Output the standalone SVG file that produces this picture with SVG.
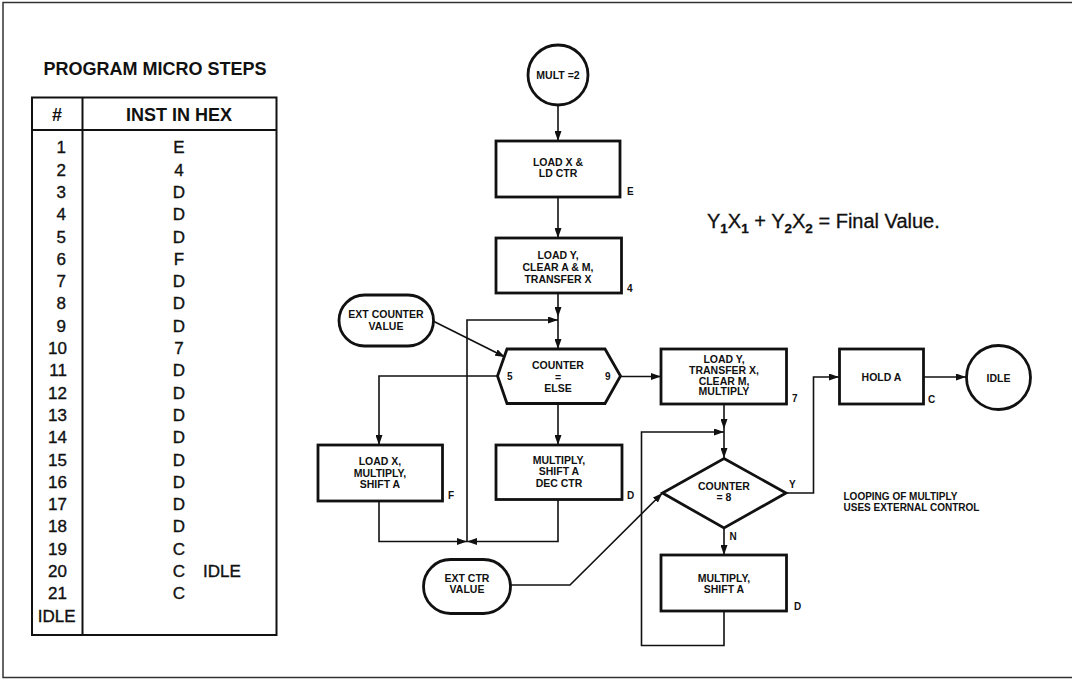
<svg xmlns="http://www.w3.org/2000/svg" width="1072" height="679" viewBox="0 0 1072 679">
  <defs>
    <marker id="arrow" markerUnits="userSpaceOnUse" markerWidth="10" markerHeight="7" refX="10" refY="3.5" orient="auto">
      <path d="M0,0 L10,3.5 L0,7 z" fill="#111"/>
    </marker>
    <style>
      .frame { fill: none; stroke: #333; stroke-width: 1.5; }
      .tbl { fill: none; stroke: #111; stroke-width: 2; }
      .node { fill: #fff; stroke: #111; stroke-width: 2.8; }
      .conn { fill: none; stroke: #111; stroke-width: 1.6; }
      .title { font-family: "Liberation Sans", Arial, sans-serif; font-weight: bold; font-size: 18px; fill: #111; }
      .cell { font-family: "Liberation Sans", Arial, sans-serif; font-size: 17px; fill: #111; stroke: #111; stroke-width: 0.35; }
      .lbl { font-family: "Liberation Sans", Arial, sans-serif; font-weight: bold; font-size: 10.5px; fill: #111; text-anchor: middle; }
      .tag { font-family: "Liberation Sans", Arial, sans-serif; font-weight: bold; font-size: 10px; fill: #111; }
      .note { font-family: "Liberation Sans", Arial, sans-serif; font-weight: bold; font-size: 10px; fill: #111; }
      .formula { font-family: "Liberation Sans", Arial, sans-serif; font-size: 20px; fill: #111; stroke: #111; stroke-width: 0.3; }
      .sub { font-size: 13.5px; font-weight: bold; }
    </style>
  </defs>

  <rect width="1072" height="679" fill="#fff"/>

  <!-- page frame (open on the right) -->
  <path class="frame" d="M1072,2.5 H3 V677.5 H1072"/>

  <!-- micro step table -->
  <g id="micro-steps-table">
    <text class="title" x="155" y="75" text-anchor="middle">PROGRAM MICRO STEPS</text>
    <rect class="tbl" x="32" y="97.5" width="244.5" height="537.5"/>
    <line class="tbl" x1="32" y1="130" x2="276.5" y2="130"/>
    <line class="tbl" x1="82.5" y1="97.5" x2="82.5" y2="635"/>
    <text class="title" x="57" y="121" text-anchor="middle">#</text>
    <text class="title" x="179" y="121" text-anchor="middle">INST IN HEX</text>
    <g class="cell" text-anchor="end">
      <text x="66" y="153.3">1</text>
      <text x="66" y="175.6">2</text>
      <text x="66" y="197.9">3</text>
      <text x="66" y="220.2">4</text>
      <text x="66" y="242.5">5</text>
      <text x="66" y="264.8">6</text>
      <text x="66" y="287.1">7</text>
      <text x="66" y="309.4">8</text>
      <text x="66" y="331.7">9</text>
      <text x="67" y="354.0">10</text>
      <text x="67" y="376.3">11</text>
      <text x="67" y="398.6">12</text>
      <text x="67" y="420.9">13</text>
      <text x="67" y="443.2">14</text>
      <text x="67" y="465.5">15</text>
      <text x="67" y="487.8">16</text>
      <text x="67" y="510.1">17</text>
      <text x="67" y="532.4">18</text>
      <text x="67" y="554.7">19</text>
      <text x="67" y="577.0">20</text>
      <text x="67" y="599.3">21</text>
      <text x="75.5" y="621.6">IDLE</text>
    </g>
    <g class="cell" text-anchor="middle">
      <text x="179" y="153.3">E</text>
      <text x="179" y="175.6">4</text>
      <text x="179" y="197.9">D</text>
      <text x="179" y="220.2">D</text>
      <text x="179" y="242.5">D</text>
      <text x="179" y="264.8">F</text>
      <text x="179" y="287.1">D</text>
      <text x="179" y="309.4">D</text>
      <text x="179" y="331.7">D</text>
      <text x="179" y="354.0">7</text>
      <text x="179" y="376.3">D</text>
      <text x="179" y="398.6">D</text>
      <text x="179" y="420.9">D</text>
      <text x="179" y="443.2">D</text>
      <text x="179" y="465.5">D</text>
      <text x="179" y="487.8">D</text>
      <text x="179" y="510.1">D</text>
      <text x="179" y="532.4">D</text>
      <text x="179" y="554.7">C</text>
      <text x="179" y="577.0">C</text>
      <text x="179" y="599.3">C</text>
    </g>
    <text class="cell" x="203" y="577.0">IDLE</text>
  </g>

  <!-- formula -->
  <text class="formula" x="707" y="228">Y<tspan class="sub" dy="5">1</tspan><tspan dy="-5">X</tspan><tspan class="sub" dy="5">1</tspan><tspan dy="-5"> + Y</tspan><tspan class="sub" dy="5">2</tspan><tspan dy="-5">X</tspan><tspan class="sub" dy="5">2</tspan><tspan dy="-5"> = Final Value.</tspan></text>

  <!-- connectors -->
  <g id="connectors">
    <line class="conn" x1="558" y1="105" x2="558" y2="141" marker-end="url(#arrow)"/>
    <line class="conn" x1="558" y1="197" x2="558" y2="238" marker-end="url(#arrow)"/>
    <line class="conn" x1="558" y1="293" x2="558" y2="317" marker-end="url(#arrow)"/>
    <line class="conn" x1="558" y1="317" x2="558" y2="349" marker-end="url(#arrow)"/>
    <path class="conn" d="M467,541.5 V320 H558" marker-end="url(#arrow)"/>
    <line class="conn" x1="434" y1="321.5" x2="505" y2="357" marker-end="url(#arrow)"/>
    <path class="conn" d="M497,376 H379 V445" marker-end="url(#arrow)"/>
    <line class="conn" x1="558" y1="403.5" x2="558" y2="445" marker-end="url(#arrow)"/>
    <path class="conn" d="M379,501 V541.5 H467" marker-end="url(#arrow)"/>
    <path class="conn" d="M558,499.5 V541.5 H467" marker-end="url(#arrow)"/>
    <line class="conn" x1="621" y1="376.5" x2="661" y2="376.5" marker-end="url(#arrow)"/>
    <line class="conn" x1="724" y1="404" x2="724" y2="429" marker-end="url(#arrow)"/>
    <line class="conn" x1="724" y1="429" x2="724" y2="458" marker-end="url(#arrow)"/>
    <path class="conn" d="M724,611 V645.5 H641.5 V432 H724" marker-end="url(#arrow)"/>
    <path class="conn" d="M511,585 H570 L662.5,493" marker-end="url(#arrow)"/>
    <path class="conn" d="M786,493 H813.5 V377 H839" marker-end="url(#arrow)"/>
    <line class="conn" x1="724" y1="528" x2="724" y2="555" marker-end="url(#arrow)"/>
    <line class="conn" x1="923.5" y1="377" x2="966" y2="377" marker-end="url(#arrow)"/>
  </g>

  <g id="mult-start">
    <circle class="node" cx="558" cy="75" r="30"/>
    <text class="lbl" x="558" y="79">MULT =2</text>
  </g>

  <g id="load-x-ld-ctr">
    <rect class="node" x="496" y="141" width="124" height="56"/>
    <text class="lbl" x="558" y="165.5">LOAD X &amp;</text>
    <text class="lbl" x="558" y="177">LD CTR</text>
    <text class="tag" x="627" y="195">E</text>
  </g>

  <g id="load-y-clear">
    <rect class="node" x="496" y="238" width="125.5" height="55"/>
    <text class="lbl" x="558" y="258.5">LOAD Y,</text>
    <text class="lbl" x="558" y="270.5">CLEAR A &amp; M,</text>
    <text class="lbl" x="558" y="282.5">TRANSFER X</text>
    <text class="tag" x="627" y="292">4</text>
  </g>

  <g id="ext-counter-value">
    <rect class="node" x="339" y="295" width="94.5" height="51" rx="25.5" ry="25.5"/>
    <text class="lbl" x="386" y="318">EXT COUNTER</text>
    <text class="lbl" x="386" y="329.5">VALUE</text>
  </g>

  <g id="counter-else">
    <polygon class="node" points="507,349 605,349 620.5,376 605,403.5 507,403.5 497.5,376"/>
    <text class="lbl" x="558" y="369">COUNTER</text>
    <text class="lbl" x="558" y="381">=</text>
    <text class="lbl" x="558" y="392">ELSE</text>
    <text class="tag" x="507" y="380">5</text>
    <text class="tag" x="605" y="380">9</text>
  </g>

  <g id="load-x-multiply">
    <rect class="node" x="318" y="445" width="124.5" height="56"/>
    <text class="lbl" x="380" y="465">LOAD X,</text>
    <text class="lbl" x="380" y="476.5">MULTIPLY,</text>
    <text class="lbl" x="380" y="488">SHIFT A</text>
    <text class="tag" x="448" y="499">F</text>
  </g>

  <g id="multiply-dec-ctr">
    <rect class="node" x="496" y="445" width="126" height="54.5"/>
    <text class="lbl" x="559" y="463.5">MULTIPLY,</text>
    <text class="lbl" x="559" y="475">SHIFT A</text>
    <text class="lbl" x="559" y="486.5">DEC CTR</text>
    <text class="tag" x="627" y="499">D</text>
  </g>

  <g id="ext-ctr-value">
    <rect class="node" x="423.5" y="559.5" width="87" height="54" rx="27" ry="27"/>
    <text class="lbl" x="467" y="582">EXT CTR</text>
    <text class="lbl" x="467" y="593">VALUE</text>
  </g>

  <g id="load-y-transfer">
    <rect class="node" x="661" y="349" width="125.5" height="55"/>
    <text class="lbl" x="724" y="363">LOAD Y,</text>
    <text class="lbl" x="724" y="373.5">TRANSFER X,</text>
    <text class="lbl" x="724" y="384.5">CLEAR M,</text>
    <text class="lbl" x="724" y="395">MULTIPLY</text>
    <text class="tag" x="792" y="402">7</text>
  </g>

  <g id="counter-eq-8">
    <polygon class="node" points="724,458.5 786,493 724,528 662.5,493"/>
    <text class="lbl" x="724" y="490">COUNTER</text>
    <text class="lbl" x="724" y="500.5">= 8</text>
    <text class="tag" x="789" y="487.5">Y</text>
    <text class="tag" x="729.5" y="540">N</text>
  </g>

  <g id="multiply-shift-a">
    <rect class="node" x="661" y="555" width="125.5" height="56"/>
    <text class="lbl" x="724" y="582">MULTIPLY,</text>
    <text class="lbl" x="724" y="593">SHIFT A</text>
    <text class="tag" x="794" y="610">D</text>
  </g>

  <g id="hold-a">
    <rect class="node" x="839.5" y="349" width="84" height="55"/>
    <text class="lbl" x="881.5" y="381">HOLD A</text>
    <text class="tag" x="928" y="403">C</text>
  </g>

  <g id="idle-end">
    <circle class="node" cx="998.5" cy="377.5" r="32"/>
    <text class="lbl" x="998.5" y="381.5">IDLE</text>
  </g>

  <g id="looping-note">
    <text class="note" x="843.5" y="500">LOOPING OF MULTIPLY</text>
    <text class="note" x="843.5" y="511">USES EXTERNAL CONTROL</text>
  </g>
</svg>
